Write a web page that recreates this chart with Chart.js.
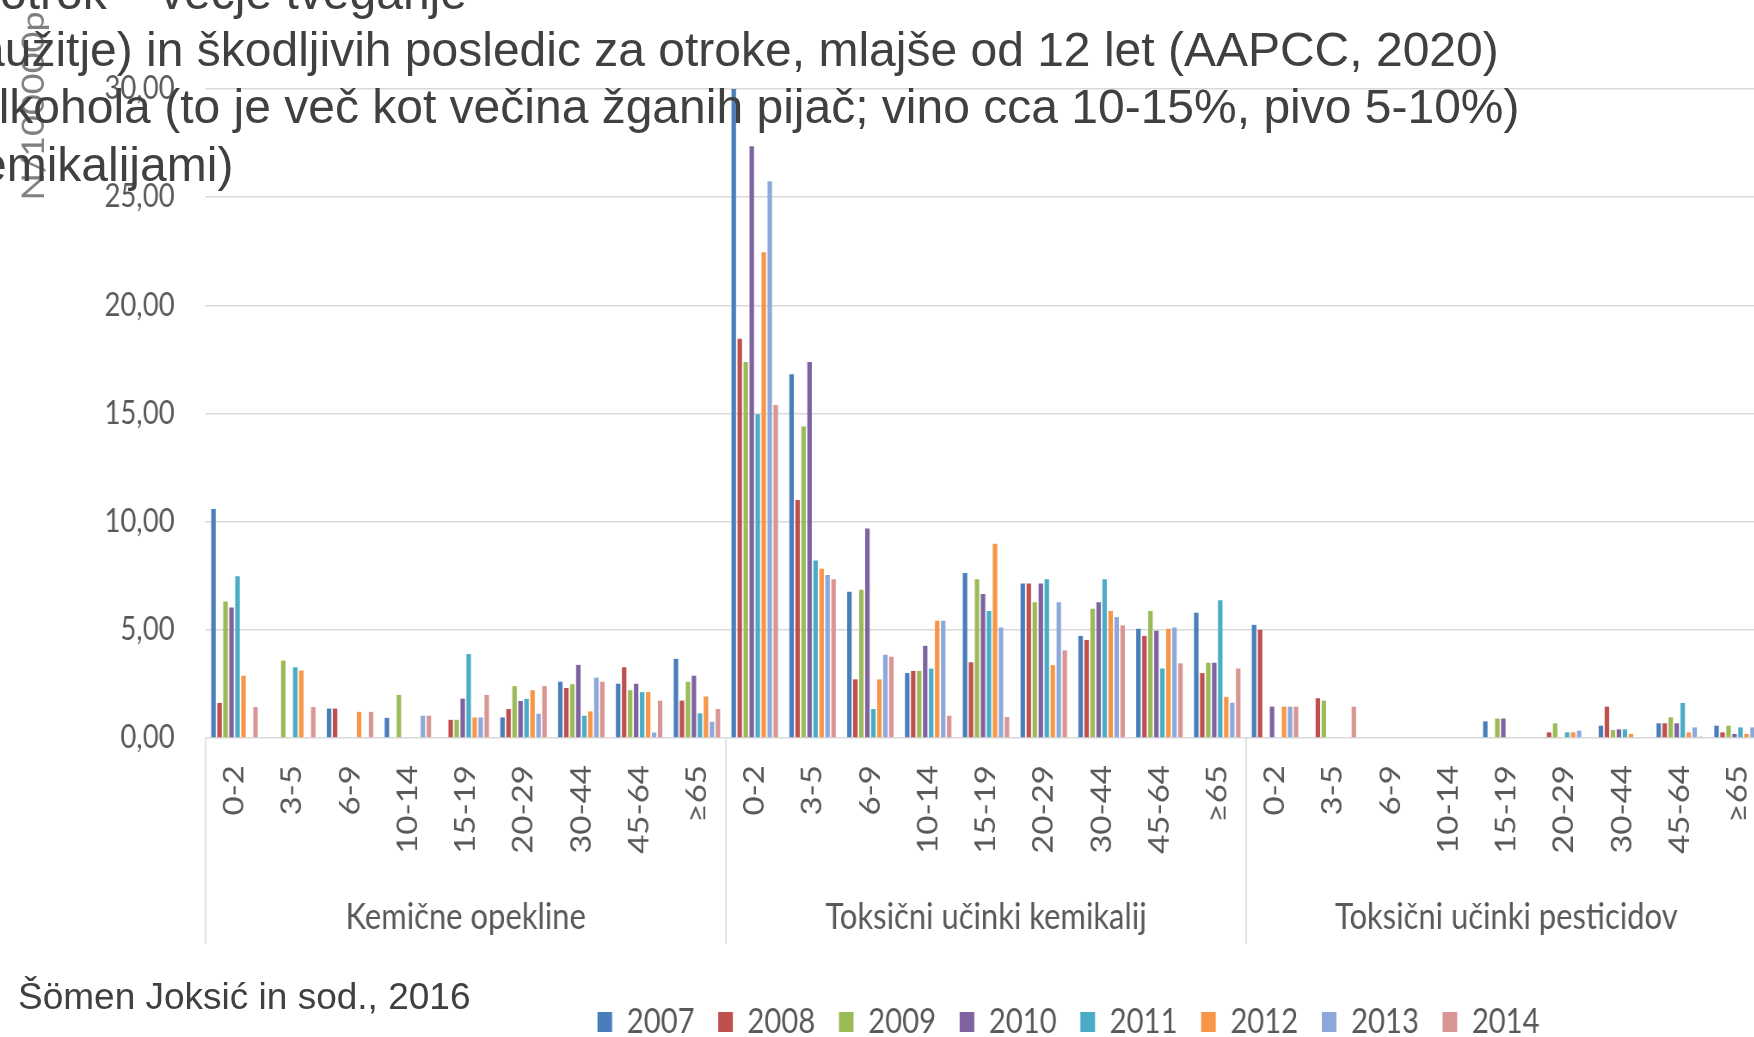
<!DOCTYPE html>
<html>
<head>
<meta charset="utf-8">
<script src="https://cdn.jsdelivr.net/npm/chart.js@4.4.1/dist/chart.umd.min.js"></script>
<style>
    html, body { margin: 0; padding: 0; background: #fff; overflow: hidden; }
    #wrap { position: relative; width: 1754px; height: 1037px; overflow: hidden; }
    #chart { position: absolute; left: 0; top: 0; transform: scaleX(0.86); transform-origin: 0 0; }
    .txt { position: absolute; font-family: "Liberation Sans", Arial, sans-serif; color: #404040; white-space: nowrap; line-height: 1; }
    .slide { font-size: 48px; }
    .src { font-size: 37px; }
</style>
</head>
<body>
<div id="wrap">
    <canvas id="chart" width="2485" height="1037"></canvas>
    <div class="txt slide" style="left:0px; top:-31px">otrok – večje tveganje</div>
    <div class="txt slide" style="left:-46px; top:26px">zaužitje) in škodljivih posledic za otroke, mlajše od 12 let (AAPCC, 2020)</div>
    <div class="txt slide" style="left:-28px; top:83px">alkohola (to je več kot večina žganih pijač; vino cca 10-15%, pivo 5-10%)</div>
    <div class="txt slide" style="left:-44px; top:141px">kemikalijami)</div>
    <div class="txt src" style="left:18px; top:978px">Šömen Joksić in sod., 2016</div>
</div>
<script>
const ageGroups = ['0-2', '3-5', '6-9', '10-14', '15-19', '20-29', '30-44', '45-64', '≥65']
const injuryGroups = ['Kemične opekline', 'Toksični učinki kemikalij', 'Toksični učinki pesticidov']
const years = ['2007', '2008', '2009', '2010', '2011', '2012', '2013', '2014']
const yTickLabels = ['0,00', '5,00', '10,00', '15,00', '20,00', '25,00', '30,00']
const yTitle = 'N/100000p'

// po skupinah: kemične opekline | toksični učinki kemikalij | toksični učinki pesticidov
const v2007 = [10.59, 0, 1.36, 0.93, 0, 0.95, 2.60, 2.51, 3.66,
               30.0, 16.82, 6.76, 3.00, 7.63, 7.14, 4.72, 5.05, 5.79,
               5.23, 0, 0, 0, 0.77, 0, 0.57, 0.68, 0.57]
const v2008 = [1.62, 0, 1.36, 0, 0.84, 1.34, 2.31, 3.27, 1.73,
               18.45, 11.0, 2.71, 3.10, 3.50, 7.14, 4.53, 4.72, 3.00,
               5.0, 1.84, 0, 0, 0, 0.26, 1.45, 0.68, 0.26]
const v2009 = [6.31, 3.58, 0, 1.99, 0.84, 2.40, 2.49, 2.21, 2.60,
               17.38, 14.40, 6.85, 3.10, 7.34, 6.27, 5.98, 5.87, 3.48,
               0, 1.73, 0, 0, 0.90, 0.68, 0.37, 0.96, 0.57]
const v2010 = [6.03, 0, 0, 0, 1.82, 1.71, 3.38, 2.51, 2.88,
               27.35, 17.38, 9.68, 4.26, 6.66, 7.14, 6.27, 4.96, 3.48,
               1.45, 0, 0, 0, 0.90, 0, 0.40, 0.68, 0.19]
const v2011 = [7.48, 3.27, 0, 0, 3.88, 1.81, 1.03, 2.12, 1.14,
               14.96, 8.21, 1.34, 3.21, 5.87, 7.34, 7.34, 3.21, 6.37,
               0, 0, 0, 0, 0, 0.26, 0.40, 1.62, 0.49]
const v2012 = [2.88, 3.12, 1.21, 0, 0.95, 2.21, 1.23, 2.12, 1.92,
               22.45, 7.82, 2.71, 5.42, 8.98, 3.37, 5.87, 5.05, 1.90,
               1.45, 0, 0, 0, 0, 0.26, 0.19, 0.26, 0.19]
const v2013 = [0, 0, 0, 1.03, 0.95, 1.12, 2.79, 0.25, 0.75,
               25.73, 7.53, 3.85, 5.42, 5.11, 6.27, 5.59, 5.11, 1.63,
               1.45, 0, 0, 0, 0, 0.34, 0, 0.49, 0.49]
const v2014 = [1.43, 1.43, 1.21, 1.03, 1.99, 2.40, 2.60, 1.73, 1.34,
               15.39, 7.34, 3.76, 1.03, 0.97, 4.05, 5.21, 3.45, 3.21,
               1.45, 1.45, 0, 0, 0, 0, 0, 0.06, 0.30]

const seriesValues = [v2007, v2008, v2009, v2010, v2011, v2012, v2013, v2014]
const seriesColors = ['#4a7ebb', '#c0504d', '#9bbb59', '#7f63a1', '#4bacc6', '#f79646', '#8da9db', '#d99694']

const labelColor = '#595959'
const gridColor = '#d9d9d9'

// ločilne črte med skupinami pod osjo x
const groupLines = {
    id: 'groupLines',
    afterDraw(chart) {
        const x = chart.scales.x
        const ctx = chart.ctx
        const bottom = chart.chartArea.bottom
        const n = ageGroups.length

        ctx.save()
        ctx.strokeStyle = gridColor
        ctx.lineWidth = 1.5
        for (let g = 0; g <= injuryGroups.length; g++) {
            let px
            if (g === 0) px = x.left
            else if (g === injuryGroups.length) px = x.right
            else px = (x.getPixelForValue(g * n - 1) + x.getPixelForValue(g * n)) / 2
            ctx.beginPath()
            ctx.moveTo(px, bottom)
            ctx.lineTo(px, bottom + 206)
            ctx.stroke()
        }
        ctx.restore()
    }
}

// naslov osi y je v izvirniku pri vrhu
const axisTitle = {
    id: 'axisTitle',
    afterDraw(chart) {
        const ctx = chart.ctx
        ctx.save()
        ctx.translate(39.5, 106)
        ctx.rotate(-Math.PI / 2)
        ctx.fillStyle = '#7f7f7f'
        ctx.font = '36px Lato'
        ctx.textAlign = 'center'
        ctx.textBaseline = 'middle'
        ctx.fillText(yTitle, 0, 0)
        ctx.restore()
    }
}

new Chart(
    document.getElementById('chart'),
    {
        type: 'bar',
        data: {
            labels: injuryGroups.flatMap(() => ageGroups),
            datasets: years.map((year, i) => ({
                label: year,
                data: seriesValues[i],
                backgroundColor: seriesColors[i],
                borderWidth: 0,
                categoryPercentage: 0.83,
                barPercentage: 0.75,
                xAxisID: 'x',
                yAxisID: 'y'
            }))
        },
        options: {
            responsive: false,
            animation: false,
            devicePixelRatio: 1,
            layout: {
                padding: { top: 89, right: 0, bottom: -12, left: 0 }
            },
            plugins: {
                tooltip: { enabled: false },
                legend: {
                    position: 'bottom',
                    labels: {
                        boxWidth: 17,
                        boxHeight: 20,
                        padding: 27.5,
                        color: labelColor,
                        font: { family: 'Lato', size: 34 }
                    }
                }
            },
            scales: {
                x: {
                    type: 'category',
                    offset: true,
                    grid: { display: false, drawTicks: false },
                    border: { display: false },
                    ticks: {
                        autoSkip: false,
                        minRotation: 90,
                        maxRotation: 90,
                        padding: 27,
                        color: labelColor,
                        font: { family: 'Lato', size: 33 }
                    },
                    afterFit: axis => { axis.height = 158 }
                },
                x2: {
                    type: 'category',
                    labels: injuryGroups,
                    position: 'bottom',
                    offset: true,
                    grid: { display: false, drawTicks: false },
                    border: { display: false },
                    ticks: {
                        padding: 0,
                        color: labelColor,
                        font: { family: 'Lato', size: 36 }
                    },
                    afterFit: axis => { axis.height = 81.5 }
                },
                y: {
                    min: 0,
                    max: 30,
                    ticks: {
                        stepSize: 5,
                        padding: 36,
                        color: labelColor,
                        font: { family: 'Lato', size: 32 },
                        callback: (value, index) => yTickLabels[index]
                    },
                    grid: { color: gridColor, lineWidth: 1.5, drawTicks: false },
                    border: { display: false },
                    afterFit: axis => { axis.width = 239 }
                },
                yRight: {
                    axis: 'y',
                    position: 'right',
                    min: 0,
                    max: 30,
                    grid: { display: false },
                    border: { display: false },
                    ticks: { display: false },
                    afterFit: axis => { axis.width = 431 }
                }
            }
        },
        plugins: [groupLines, axisTitle]
    }
)
</script>
</body>
</html>
